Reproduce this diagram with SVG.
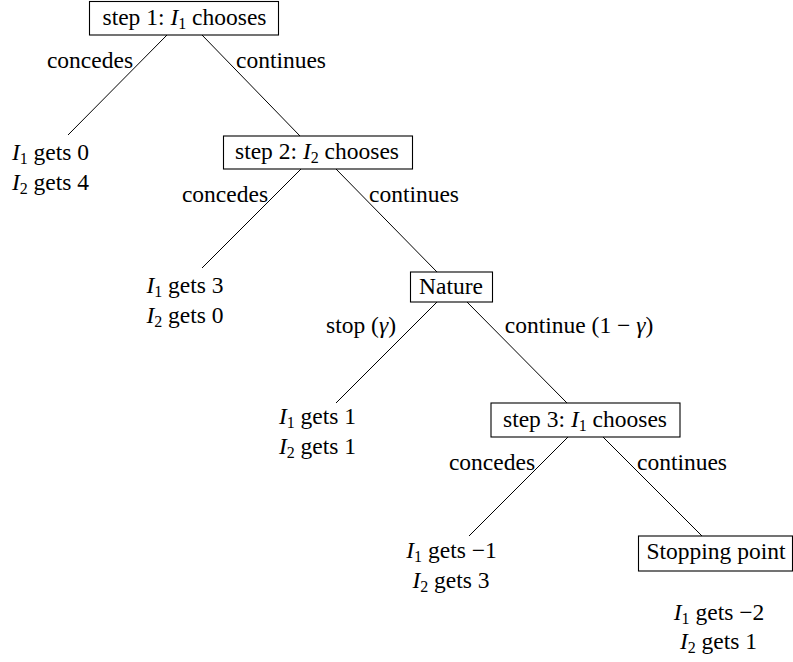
<svg xmlns="http://www.w3.org/2000/svg" width="793" height="662" viewBox="0 0 793 662">
<style>
text{font-family:"Times New Roman","Liberation Serif",serif;font-size:23.5px;fill:#000;text-anchor:middle}
.i{font-style:italic}
.s{font-size:16px}
rect{fill:#fff;stroke:#000;stroke-width:1.1}
line{stroke:#000;stroke-width:1}
</style>
<g id="connectors">
<line x1="167" y1="35" x2="68" y2="135"/>
<line x1="202" y1="35" x2="300" y2="136"/>
<line x1="301" y1="169" x2="202" y2="268"/>
<line x1="336" y1="169" x2="437" y2="272"/>
<line x1="437" y1="302" x2="336" y2="403"/>
<line x1="467" y1="302" x2="567" y2="403"/>
<line x1="568" y1="437" x2="469" y2="536"/>
<line x1="603" y1="437" x2="702" y2="536"/>
</g>
<g id="edge-labels">
<text x="90" y="68">concedes</text>
<text x="281" y="68">continues</text>
<text x="225" y="202">concedes</text>
<text x="414" y="202">continues</text>
<text x="361" y="333">stop (<tspan class="i">γ</tspan>)</text>
<text x="579" y="333">continue (1 − <tspan class="i">γ</tspan>)</text>
<text x="492" y="470">concedes</text>
<text x="682" y="470">continues</text>
</g>
<g id="step1">
<rect x="89.5" y="1.5" width="189" height="33.5"/>
<text x="184.5" y="25">step 1: <tspan class="i">I</tspan><tspan class="s" dy="4">1</tspan><tspan dy="-4"> chooses</tspan></text>
</g>
<g id="leaf1">
<text x="50.5" y="160"><tspan class="i">I</tspan><tspan class="s" dy="4">1</tspan><tspan dy="-4"> gets 0</tspan></text>
<text x="50.5" y="190"><tspan class="i">I</tspan><tspan class="s" dy="4">2</tspan><tspan dy="-4"> gets 4</tspan></text>
</g>
<g id="step2">
<rect x="223.5" y="136" width="189" height="33"/>
<text x="317" y="159">step 2: <tspan class="i">I</tspan><tspan class="s" dy="4">2</tspan><tspan dy="-4"> chooses</tspan></text>
</g>
<g id="leaf2">
<text x="185" y="293"><tspan class="i">I</tspan><tspan class="s" dy="4">1</tspan><tspan dy="-4"> gets 3</tspan></text>
<text x="185" y="323"><tspan class="i">I</tspan><tspan class="s" dy="4">2</tspan><tspan dy="-4"> gets 0</tspan></text>
</g>
<g id="nature">
<rect x="410.5" y="272" width="82" height="30"/>
<text x="451" y="294">Nature</text>
</g>
<g id="leaf3">
<text x="317.5" y="424"><tspan class="i">I</tspan><tspan class="s" dy="4">1</tspan><tspan dy="-4"> gets 1</tspan></text>
<text x="317.5" y="454"><tspan class="i">I</tspan><tspan class="s" dy="4">2</tspan><tspan dy="-4"> gets 1</tspan></text>
</g>
<g id="step3">
<rect x="491" y="403" width="189" height="34"/>
<text x="585" y="427">step 3: <tspan class="i">I</tspan><tspan class="s" dy="4">1</tspan><tspan dy="-4"> chooses</tspan></text>
</g>
<g id="leaf4">
<text x="451.5" y="558"><tspan class="i">I</tspan><tspan class="s" dy="4">1</tspan><tspan dy="-4"> gets −1</tspan></text>
<text x="451" y="588"><tspan class="i">I</tspan><tspan class="s" dy="4">2</tspan><tspan dy="-4"> gets 3</tspan></text>
</g>
<g id="stopping-point">
<rect x="638.5" y="536" width="154" height="35"/>
<text x="716" y="559">Stopping point</text>
</g>
<g id="leaf5">
<text x="719" y="620"><tspan class="i">I</tspan><tspan class="s" dy="4">1</tspan><tspan dy="-4"> gets −2</tspan></text>
<text x="718.5" y="649"><tspan class="i">I</tspan><tspan class="s" dy="4">2</tspan><tspan dy="-4"> gets 1</tspan></text>
</g>
</svg>
